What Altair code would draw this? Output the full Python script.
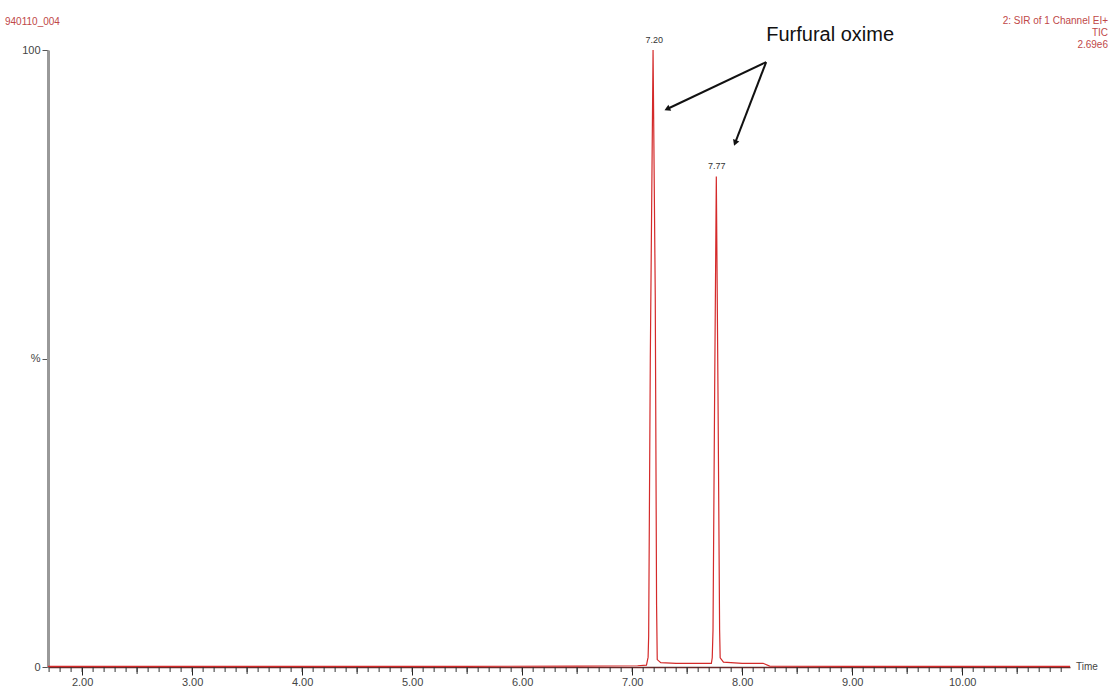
import altair as alt
import pandas as pd

# ---- data ----
times = [1.69, 2.50, 3.50, 4.50, 5.50, 6.50, 7.05, 7.13, 7.145, 7.150, 7.165, 7.190,
         7.210, 7.222, 7.228, 7.26, 7.40, 7.60, 7.72, 7.728, 7.735, 7.750, 7.765,
         7.780, 7.795, 7.800, 7.83, 8.00, 8.19, 8.25, 9.00, 10.00, 10.98]
intensity = [0.1, 0.1, 0.1, 0.1, 0.1, 0.15, 0.2, 0.3, 1.6, 5.0, 50.0, 100.0,
             60.0, 10.0, 1.2, 0.7, 0.6, 0.6, 0.6, 1.5, 6.0, 45.0, 79.5,
             45.0, 6.0, 1.5, 0.8, 0.6, 0.6, 0.15, 0.1, 0.1, 0.1]

peak_times = [7.20, 7.77]
peak_heights = [100.0, 79.5]
peak_labels = ["7.20", "7.77"]

major_ticks = [2, 3, 4, 5, 6, 7, 8, 9, 10]
mid_ticks = [2.5, 3.5, 4.5, 5.5, 6.5, 7.5, 8.5, 9.5, 10.5]
minor_ticks = [round(1.7 + 0.1 * i, 2) for i in range(93)]

# annotation arrows (data coordinates)
arrow_x = [8.218, 8.218]
arrow_y = [98.05, 98.05]
arrow_x2 = [7.318, 7.936]
arrow_y2 = [90.44, 84.93]
arrow_angle = [245, 201]

XDOM = [1.69, 10.98]
W, H = 1022, 617

df = pd.DataFrame({"t": times, "v": intensity})
peaks = pd.DataFrame({"t": peak_times, "v": peak_heights, "lab": peak_labels})
arrows = pd.DataFrame({"x": arrow_x, "y": arrow_y, "x2": arrow_x2, "y2": arrow_y2,
                       "ang": arrow_angle})
mids = pd.DataFrame({"t": mid_ticks})
minors = pd.DataFrame({"t": minor_ticks})

xscale = alt.Scale(domain=XDOM, nice=False, zero=False)
yscale = alt.Scale(domain=[0, 100], nice=False)

main_x_axis = alt.Axis(values=major_ticks, format=".2f", tickSize=8, tickColor="#222",
                       domainColor="#6a2a2a", domainWidth=1.5, labelColor="#444",
                       labelFont="Liberation Sans", labelFontSize=11, labelPadding=1,
                       grid=False, title=None)
y_axis = alt.Axis(values=[0, 50, 100],
                  labelExpr="datum.value == 50 ? '%' : datum.value == 100 ? '100' : '0'",
                  tickSize=6, tickColor="#555", domainColor="#999", domainWidth=3,
                  labelColor="#444", labelFont="Liberation Sans", labelFontSize=11,
                  labelPadding=2, grid=False, title=None)

minor_rules = alt.Chart(minors).mark_rule(color="#333", strokeWidth=1).encode(
    x=alt.X("t:Q", scale=xscale, axis=main_x_axis),
    y=alt.value(H), y2=alt.value(H + 5))
mid_rules = alt.Chart(mids).mark_rule(color="#333", strokeWidth=1).encode(
    x=alt.X("t:Q", scale=xscale),
    y=alt.value(H), y2=alt.value(H + 7))

line = alt.Chart(df).mark_line(color="#d42a2a", strokeWidth=1.2, interpolate="linear").encode(
    x=alt.X("t:Q", scale=xscale),
    y=alt.Y("v:Q", scale=yscale, axis=y_axis),
)

peak_text = alt.Chart(peaks).mark_text(fontSize=9, color="#333", dy=-10,
                                       font="Liberation Sans").encode(
    x=alt.X("t:Q", scale=xscale), y=alt.Y("v:Q", scale=yscale), text="lab:N")

arrow_lines = alt.Chart(arrows).mark_rule(color="#111", strokeWidth=2).encode(
    x=alt.X("x:Q", scale=xscale), y=alt.Y("y:Q", scale=yscale), x2="x2:Q", y2="y2:Q")
arrow_heads = alt.Chart(arrows).mark_point(shape="triangle-up", filled=True, color="#111",
                                           size=45, opacity=1).encode(
    x=alt.X("x2:Q", scale=xscale), y=alt.Y("y2:Q", scale=yscale),
    angle=alt.Angle("ang:Q", scale=None))

label_text = alt.Chart(pd.DataFrame({"x": [8.80], "y": [102.5], "s": ["Furfural oxime"]})).mark_text(
    fontSize=20, font="Liberation Sans", color="#111", align="center", baseline="middle").encode(
    x=alt.X("x:Q", scale=xscale), y=alt.Y("y:Q", scale=yscale), text="s:N")

time_text = alt.Chart(pd.DataFrame({"x": [XDOM[1]], "y": [0], "s": ["Time"]})).mark_text(
    fontSize=10, font="Liberation Sans", color="#444", align="left", baseline="middle", dx=6).encode(
    x=alt.X("x:Q", scale=xscale), y=alt.Y("y:Q", scale=yscale), text="s:N")

left_title = alt.Chart(pd.DataFrame({"s": ["940110_004"]})).mark_text(
    fontSize=10, font="Liberation Sans", color="#c04848", align="left", baseline="middle").encode(
    x=alt.value(-43), y=alt.value(-28), text="s:N")

right_title = alt.Chart(pd.DataFrame({"s": ["2: SIR of 1 Channel EI+\nTIC\n2.69e6"]})).mark_text(
    fontSize=10, font="Liberation Sans", color="#c04848", align="right", baseline="top",
    lineBreak="\n", lineHeight=12).encode(
    x=alt.value(W + 38), y=alt.value(-34), text="s:N")

chart = alt.layer(
    minor_rules, mid_rules, line, peak_text, arrow_lines, arrow_heads,
    label_text, time_text, left_title, right_title,
).properties(
    width=W, height=H,
    padding={"left": 48, "top": 50, "right": 43, "bottom": 24},
    autosize=alt.AutoSizeParams(type="none"),
    background="white",
).configure_view(strokeWidth=0)

chart.save("out.html", embed_options={"renderer": "svg", "actions": False})
